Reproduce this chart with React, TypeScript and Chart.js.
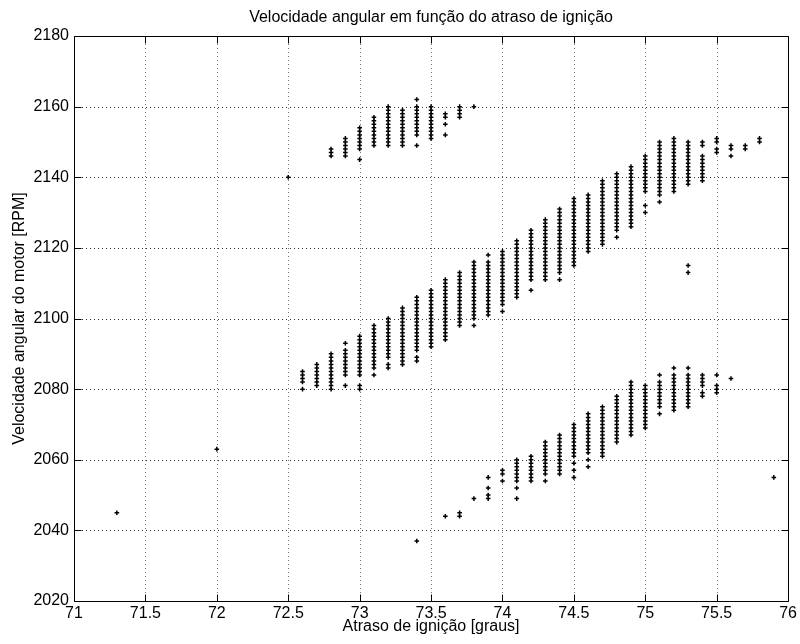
import { useEffect, useRef } from "react";
import { Chart, registerables } from "chart.js";

Chart.register(...registerables);

// Each run: [ignition delay (graus), lowest rpm, highest rpm]; readings are 1 rpm apart.
type Run = [number, number, number];

const xTickValues = [71, 71.5, 72, 72.5, 73, 73.5, 74, 74.5, 75, 75.5, 76];
const yTickValues = [2020, 2040, 2060, 2080, 2100, 2120, 2140, 2160, 2180];

const chartTitle = "Velocidade angular em função do atraso de ignição";
const xTitle = "Atraso de ignição [graus]";
const yTitle = "Velocidade angular do motor [RPM]";

const middleBand: Run[] = [
  [72.6, 2082, 2085], [72.6, 2080, 2080],
  [72.7, 2081, 2087],
  [72.8, 2080, 2090],
  [72.9, 2084, 2091], [72.9, 2093, 2093], [72.9, 2081, 2081],
  [73.0, 2084, 2095], [73.0, 2080, 2081],
  [73.1, 2086, 2098], [73.1, 2084, 2084],
  [73.2, 2089, 2100], [73.2, 2086, 2087],
  [73.3, 2087, 2103],
  [73.4, 2091, 2106], [73.4, 2088, 2089],
  [73.5, 2092, 2108],
  [73.6, 2094, 2111],
  [73.7, 2098, 2113],
  [73.8, 2100, 2116], [73.8, 2098, 2098],
  [73.9, 2101, 2116], [73.9, 2118, 2118],
  [74.0, 2104, 2119], [74.0, 2102, 2102],
  [74.1, 2106, 2122],
  [74.2, 2111, 2125], [74.2, 2108, 2108],
  [74.3, 2111, 2128],
  [74.4, 2113, 2131], [74.4, 2111, 2111],
  [74.5, 2115, 2134],
  [74.6, 2119, 2135],
  [74.7, 2121, 2139],
  [74.8, 2125, 2141], [74.8, 2123, 2123],
  [74.9, 2126, 2143],
  [75.0, 2136, 2146], [75.0, 2132, 2132], [75.0, 2130, 2130],
  [75.1, 2135, 2150], [75.1, 2133, 2133],
  [75.2, 2136, 2151],
  [75.3, 2138, 2150], [75.3, 2115, 2115], [75.3, 2113, 2113],
  [75.4, 2139, 2146], [75.4, 2149, 2150],
  [75.5, 2150, 2151], [75.5, 2147, 2148],
  [75.6, 2148, 2149], [75.6, 2146, 2146],
  [75.7, 2148, 2149],
  [75.8, 2150, 2151],
];

const upperBand: Run[] = [
  [72.5, 2140, 2140],
  [72.8, 2146, 2148],
  [72.9, 2146, 2151],
  [73.0, 2148, 2154], [73.0, 2145, 2145],
  [73.1, 2149, 2157],
  [73.2, 2149, 2160],
  [73.3, 2149, 2159],
  [73.4, 2152, 2160], [73.4, 2162, 2162], [73.4, 2149, 2149],
  [73.5, 2151, 2160],
  [73.6, 2157, 2158], [73.6, 2155, 2155], [73.6, 2152, 2152],
  [73.7, 2157, 2160],
  [73.8, 2160, 2160],
];

const lowerBand: Run[] = [
  [73.4, 2037, 2037],
  [73.6, 2044, 2044],
  [73.7, 2044, 2045],
  [73.8, 2049, 2049],
  [73.9, 2055, 2055], [73.9, 2052, 2052], [73.9, 2049, 2050],
  [74.0, 2056, 2057], [74.0, 2054, 2054],
  [74.1, 2054, 2060], [74.1, 2052, 2052], [74.1, 2049, 2049],
  [74.2, 2054, 2061],
  [74.3, 2056, 2065], [74.3, 2054, 2054],
  [74.4, 2056, 2067],
  [74.5, 2061, 2070], [74.5, 2059, 2059], [74.5, 2057, 2057], [74.5, 2055, 2055],
  [74.6, 2062, 2073], [74.6, 2060, 2060], [74.6, 2058, 2058],
  [74.7, 2061, 2075],
  [74.8, 2065, 2078],
  [74.9, 2067, 2082],
  [75.0, 2069, 2081],
  [75.1, 2075, 2082], [75.1, 2084, 2084], [75.1, 2073, 2073],
  [75.2, 2074, 2084], [75.2, 2086, 2086],
  [75.3, 2075, 2084], [75.3, 2086, 2086],
  [75.4, 2081, 2084], [75.4, 2078, 2079],
  [75.5, 2079, 2081], [75.5, 2084, 2084],
  [75.6, 2083, 2083],
];

const strayPoints: [number, number][] = [
  [71.3, 2045],
  [72.0, 2063],
  [75.9, 2055],
];

const FONT_FAMILY = "'Liberation Sans', Arial, Helvetica, sans-serif";

function expandRuns(runs: Run[]) {
  const pts: { x: number; y: number }[] = [];
  for (const [angle, lo, hi] of runs) {
    for (let rpm = lo; rpm <= hi; rpm++) pts.push({ x: angle, y: rpm });
  }
  return pts;
}

const allPoints = [
  ...expandRuns(upperBand),
  ...expandRuns(middleBand),
  ...expandRuns(lowerBand),
  ...strayPoints.map(([x, y]) => ({ x, y })),
];

const crisp = (v: number) => Math.round(v) + 0.5;

// Dotted grid behind the markers
const gridPlugin = {
  id: "dottedGrid",
  beforeDatasetsDraw(chart: any) {
    const { ctx, chartArea, scales } = chart;
    const { left, right, top, bottom } = chartArea;
    ctx.save();
    ctx.lineWidth = 1;
    ctx.setLineDash([1, 3]);
    ctx.strokeStyle = "rgba(0,0,0,0.55)";
    for (const v of xTickValues.slice(1, -1)) {
      const px = crisp(scales.x.getPixelForValue(v));
      ctx.beginPath();
      ctx.moveTo(px, top);
      ctx.lineTo(px, bottom);
      ctx.stroke();
    }
    ctx.strokeStyle = "rgba(0,0,0,0.8)";
    for (const v of yTickValues.slice(1, -1)) {
      const py = crisp(scales.y.getPixelForValue(v));
      ctx.beginPath();
      ctx.moveTo(left, py);
      ctx.lineTo(right, py);
      ctx.stroke();
    }
    ctx.restore();
  },
};

// Axes box, inward tick marks and the chart title
const framePlugin = {
  id: "axesFrame",
  afterDraw(chart: any) {
    const { ctx, chartArea, scales } = chart;
    const { left, right, top, bottom } = chartArea;
    const tickLen = 7;
    ctx.save();
    ctx.strokeStyle = "#000";
    ctx.lineWidth = 1;
    ctx.setLineDash([]);
    const l = crisp(left), r = crisp(right), t = crisp(top), b = crisp(bottom);
    ctx.beginPath();
    ctx.rect(l, t, r - l, b - t);
    ctx.stroke();
    ctx.beginPath();
    for (const v of xTickValues) {
      const px = crisp(scales.x.getPixelForValue(v));
      ctx.moveTo(px, b);
      ctx.lineTo(px, b - tickLen);
      ctx.moveTo(px, t);
      ctx.lineTo(px, t + tickLen);
    }
    for (const v of yTickValues) {
      const py = crisp(scales.y.getPixelForValue(v));
      ctx.moveTo(l, py);
      ctx.lineTo(l + tickLen, py);
      ctx.moveTo(r, py);
      ctx.lineTo(r - tickLen, py);
    }
    ctx.stroke();

    ctx.fillStyle = "#000";
    ctx.font = `16px ${FONT_FAMILY}`;
    ctx.textAlign = "center";
    ctx.textBaseline = "middle";
    ctx.fillText(chartTitle, (left + right) / 2, 18);
    ctx.restore();
  },
};

export default function App() {
  const canvasRef = useRef<HTMLCanvasElement>(null);

  useEffect(() => {
    const canvas = canvasRef.current;
    if (!canvas) return;
    const font = { family: FONT_FAMILY, size: 16 };
    const chart = new Chart(canvas, {
      type: "scatter",
      data: {
        datasets: [
          {
            data: allPoints,
            pointStyle: "cross",
            radius: 2.3,
            borderWidth: 1.5,
            borderColor: "#000",
            backgroundColor: "#000",
          },
        ],
      },
      options: {
        responsive: false,
        animation: false,
        devicePixelRatio: 1,
        layout: { padding: { left: 0, right: 10, top: 36, bottom: 0 } },
        plugins: {
          legend: { display: false },
          title: { display: false },
          tooltip: { enabled: false },
        },
        scales: {
          x: {
            type: "linear",
            position: "bottom",
            min: 71,
            max: 76,
            afterBuildTicks: (s: any) => {
              s.ticks = xTickValues.map((value) => ({ value }));
            },
            afterFit: (s: any) => {
              s.height = 43;
            },
            grid: { display: false, drawTicks: false },
            border: { display: false },
            ticks: {
              color: "#000",
              font,
              padding: 3,
              maxRotation: 0,
              autoSkip: false,
              callback: (v: any) => String(Number(Number(v).toFixed(1))),
            },
            title: {
              display: true,
              text: xTitle,
              color: "#000",
              font,
              padding: { top: 0, bottom: 8 },
            },
          },
          y: {
            type: "linear",
            position: "left",
            min: 2020,
            max: 2180,
            afterBuildTicks: (s: any) => {
              s.ticks = yTickValues.map((value) => ({ value }));
            },
            afterFit: (s: any) => {
              s.width = 74;
            },
            grid: { display: false, drawTicks: false },
            border: { display: false },
            ticks: {
              color: "#000",
              font,
              padding: 5,
              autoSkip: false,
              callback: (v: any) => String(v),
            },
            title: {
              display: true,
              text: yTitle,
              color: "#000",
              font,
              padding: { top: 10, bottom: 0 },
            },
          },
        },
      },
      plugins: [gridPlugin, framePlugin],
    });
    return () => chart.destroy();
  }, []);

  return (
    <div
      style={{
        position: "fixed",
        left: 0,
        top: 0,
        width: 800,
        height: 644,
        background: "#fff",
      }}
    >
      <canvas
        ref={canvasRef}
        width={800}
        height={644}
        style={{ display: "block", width: 800, height: 644 }}
      />
    </div>
  );
}
